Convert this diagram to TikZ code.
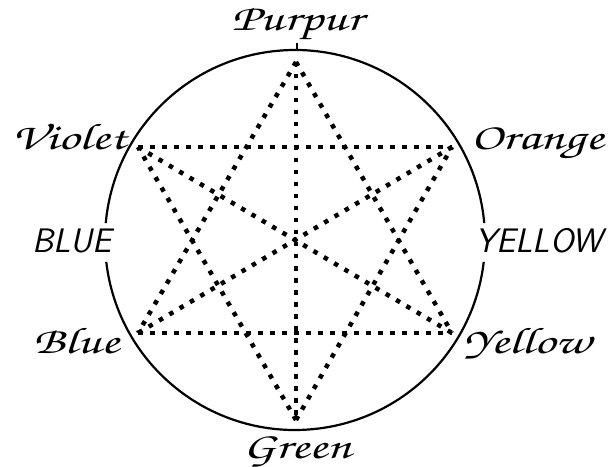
\documentclass[tikz,border=0pt]{standalone}
\usepackage[T1,TU]{fontenc}
\usepackage{graphicx}
\newcommand\chanc{\fontencoding{T1}\fontfamily{pzc}\fontseries{mb}\fontshape{it}\fontsize{37}{37}\selectfont}
\newcommand\capsf{\sffamily\itshape\fontsize{34}{34}\selectfont}
\newcommand\wide[1]{\scalebox{1.42}[1]{#1}}
\tikzset{
  star/.style={line width=4.5pt, dash pattern=on 4.5pt off 7.5pt, line cap=butt},
  ring/.style={line width=2.2pt},
  script/.style={font=\chanc, inner sep=0pt, anchor=base},
  caps/.style={font=\capsf, inner sep=0pt, anchor=base},
}
\begin{document}
\begin{tikzpicture}[x=1pt,y=1pt]
\useasboundingbox (0,0) rectangle (612,466);
% circle with gaps
\draw[ring] (295,226) ++(5.1:190) arc[start angle=5.1,end angle=174.9,radius=190];
\draw[ring] (295,226) ++(186.6:190) arc[start angle=186.6,end angle=353.4,radius=190];
% vertices
\coordinate (P) at (296,404);
\coordinate (G) at (296,46);
\coordinate (V) at (138,319);
\coordinate (O) at (452,319);
\coordinate (B) at (138,133);
\coordinate (Y) at (452,133);
\coordinate (top) at (297,416);
% labels
\node[script] (lP) at (297,435) {\wide{Purpur}};
\node[script] (lV) at (69,316) {\wide{Violet}};
\node[script] (lO) at (537,316) {\wide{Orange}};
\node[script] (lB) at (76,113) {\wide{Blue}};
\node[script] (lY) at (527,113) {\wide{Yellow}};
\node[script] (lG) at (297,8) {\wide{Green}};
\node[caps] (cB) at (72,213) {BLUE};
\node[caps] (cY) at (539,213) {YELLOW};
\draw[ring] (top) -- (lP.south);
% star lines
\draw[star] (P) -- (G);
\draw[star] (V) -- (O);
\draw[star] (B) -- (Y);
\draw[star] (V) -- (Y);
\draw[star] (O) -- (B);
\draw[star] (P) -- (B);
\draw[star] (P) -- (Y);
\draw[star] (G) -- (V);
\draw[star] (G) -- (O);
\end{tikzpicture}
\end{document}
